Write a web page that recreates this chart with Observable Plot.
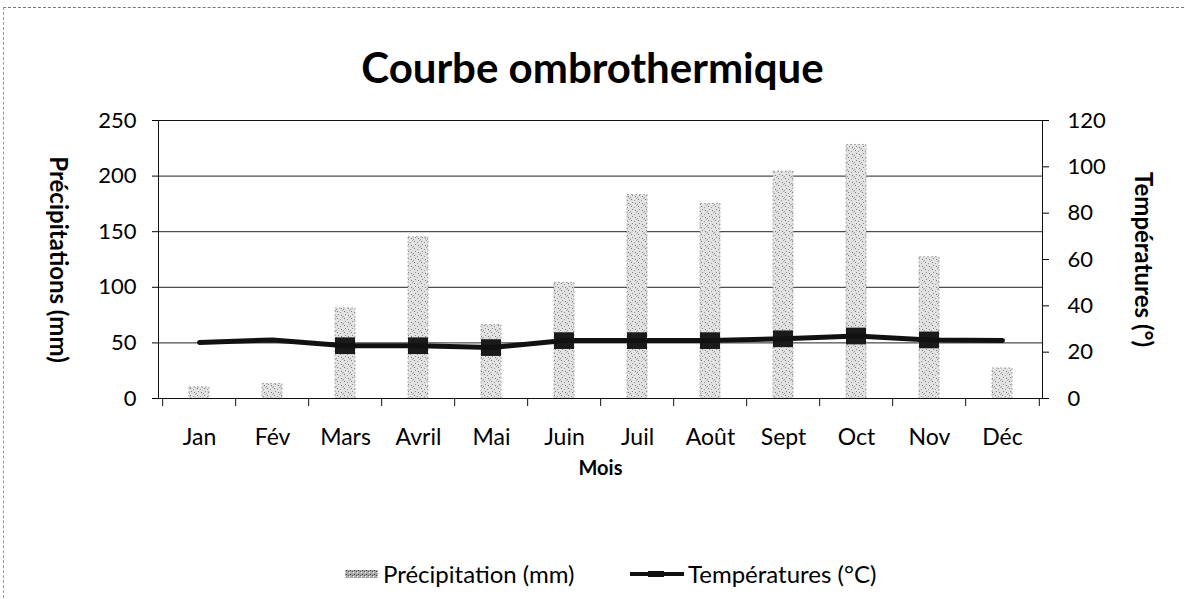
<!DOCTYPE html>
<html><head><meta charset="utf-8">
<script src="https://cdn.jsdelivr.net/npm/d3@7"></script>
<script src="https://cdn.jsdelivr.net/npm/@observablehq/plot@0.6"></script>
<style>
body{margin:0;background:#fff;font-family:Lato,"Open Sans",sans-serif;}
#wrap{position:relative;width:1185px;height:599px;overflow:hidden;background:#fff;}
#frame{position:absolute;left:3px;top:7px;width:1200px;height:620px;border-top:1px dashed #777;border-left:1px dashed #999;pointer-events:none;}
#title{position:absolute;left:0;top:46px;width:1185px;text-align:center;font-weight:bold;font-size:42px;color:#000;line-height:1;}
#chart{position:absolute;left:0;top:100px;}
#legend{position:absolute;left:0;top:520px;width:1185px;height:79px;}
.li{position:absolute;top:40px;font-size:24px;color:#000;display:flex;align-items:center;line-height:1.2;}
</style></head>
<body>
<div id="wrap">
  <div id="frame"></div>
  <div id="title">Courbe ombrothermique</div>
  <div id="chart"></div>
  <div id="legend">
    <div class="li" style="left:345px"><svg width="33" height="10" style="margin-right:5px"><rect x="0" y="1" width="33" height="8" fill="url(#speckL)"/><defs><pattern id="speckL" width="4" height="4" patternUnits="userSpaceOnUse"><rect width="4" height="4" fill="#aaa"/><rect x="1" y="1" width="1" height="1" fill="#333"/><rect x="3" y="2" width="1" height="1" fill="#555"/><rect x="0" y="3" width="1" height="1" fill="#fff"/></pattern></defs></svg>Précipitation (mm)</div>
    <div class="li" style="left:630px"><svg width="54" height="10" style="margin-right:4px"><line x1="0" x2="54" y1="5" y2="5" stroke="#111" stroke-width="4"/><rect x="18" y="2" width="16" height="6" fill="#111"/></svg>Températures (°C)</div>
  </div>
</div>
<script>
const months = ["Jan","Fév","Mars","Avril","Mai","Juin","Juil","Août","Sept","Oct","Nov","Déc"];
const precipitation = [10, 13, 81, 145, 66, 104, 183, 175, 204, 228, 127, 27];
const temperature = [24.2, 25.3, 22.8, 22.8, 22, 25, 25, 25, 25.8, 27, 25.3, 25];
const precipTicks = [0, 50, 100, 150, 200, 250];
const tempTicks = [0, 20, 40, 60, 80, 100, 120];

const k = 250 / 120; // temperature -> precipitation units (dual axis)
const data = months.map((m, i) => ({month: m, precip: precipitation[i], temp: temperature[i]}));
const step = (1185 - 158 - 143) / months.length;

const chart = Plot.plot({
  width: 1185,
  height: 420,
  marginTop: 20,
  marginBottom: 122,
  marginLeft: 158,
  marginRight: 143,
  style: {fontFamily: "Lato, 'Open Sans', sans-serif", fontSize: "22px", color: "#000", background: "transparent"},
  x: {domain: months, paddingInner: 0.73, paddingOuter: 0.365, label: null},
  y: {domain: [0, 250], label: null},
  marks: [
    Plot.ruleY(precipTicks.filter(d => d > 0), {stroke: "#222", strokeWidth: 1}),
    Plot.barY(data, {x: "month", y: "precip", fill: "url(#speck)", stroke: "#999", strokeWidth: 0.8, strokeDasharray: "2,2"}),
    Plot.barY(data.filter(d => d.precip > d.temp * k + 8), {x: "month", y1: d => d.temp * k - 8, y2: d => d.temp * k + 7, fill: "#1a1a1a"}),
    Plot.line(data, {x: "month", y: d => d.temp * k, stroke: "#111", strokeWidth: 5}),
    Plot.frame({stroke: "#111", strokeWidth: 1}),
    Plot.ruleX(months, {y1: 0, y2: 0, dx: -step / 2, insetBottom: -8, stroke: "#111"}),
    Plot.ruleX([months[months.length - 1]], {y1: 0, y2: 0, dx: step / 2, insetBottom: -8, stroke: "#111"}),
    Plot.axisY({ticks: precipTicks, tickSize: 6, tickPadding: 16, fontSize: 22, label: null}),
    Plot.axisY({anchor: "right", ticks: tempTicks.map(t => t * k), tickFormat: d => String(Math.round(d / k)), tickSize: 6, tickPadding: 19, fontSize: 22, label: null}),
    Plot.axisX({tickSize: 0, tickPadding: 30, fontSize: 23, label: null}),
    Plot.text(["Mois"], {frameAnchor: "bottom", dy: 76, fontWeight: "bold", fontSize: 20}),
    Plot.text(["Précipitations (mm)"], {frameAnchor: "left", textAnchor: "middle", dx: -101, rotate: 90, fontWeight: "bold", fontSize: 24}),
    Plot.text(["Températures (°)"], {frameAnchor: "right", textAnchor: "middle", dx: 100, rotate: 90, fontWeight: "bold", fontSize: 24})
  ]
});

// speckled fill pattern for the bars
const ns = "http://www.w3.org/2000/svg";
const defs = document.createElementNS(ns, "defs");
defs.innerHTML = `<pattern id="speck" width="7" height="7" patternUnits="userSpaceOnUse">
  <rect width="7" height="7" fill="#e2e2e2"/>
  <rect x="1" y="1" width="1" height="1" fill="#777"/>
  <rect x="4" y="2" width="1" height="1" fill="#999"/>
  <rect x="2" y="4" width="1" height="1" fill="#888"/>
  <rect x="5" y="5" width="1" height="1" fill="#777"/>
  <rect x="6" y="0" width="1" height="1" fill="#aaa"/>
  <rect x="0" y="6" width="1" height="1" fill="#999"/>
</pattern>`;
chart.insertBefore(defs, chart.firstChild);
document.getElementById("chart").appendChild(chart);
</script>
</body></html>
